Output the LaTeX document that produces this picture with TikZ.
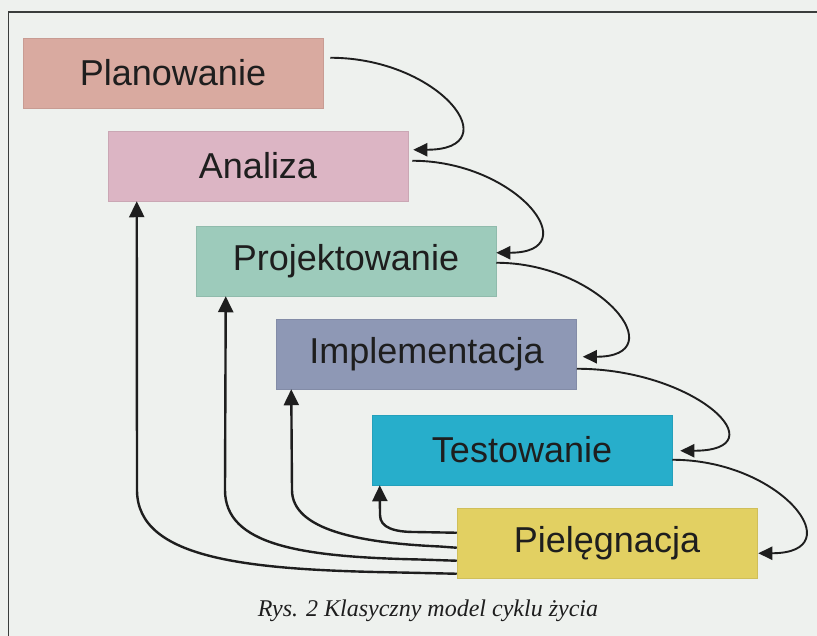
\documentclass[tikz,border=0pt]{standalone}
\usepackage{fontspec}
\setmainfont{Liberation Serif}
\setsansfont{Liberation Sans}
\usetikzlibrary{arrows.meta,calc}

\definecolor{paper}{HTML}{EEF1EE}
\definecolor{frameline}{HTML}{3A3D3C}
\definecolor{ink}{HTML}{1E1E1E}
\definecolor{cPlan}{HTML}{D9AAA0}
\definecolor{cAna}{HTML}{DCB5C4}
\definecolor{cProj}{HTML}{9DCBBB}
\definecolor{cImpl}{HTML}{8E98B5}
\definecolor{cTest}{HTML}{27AECB}
\definecolor{cPie}{HTML}{E2D062}

\tikzset{
  phase/.style={rectangle, minimum width=300pt, minimum height=70pt,
    inner sep=0pt, fill=#1, draw=#1!92!black, line width=0.5pt,
    text=ink, font=\sffamily\fontsize{36}{40}\selectfont},
  flow/.style={draw=ink, line width=1.9pt,
    -{Triangle[width=13pt,length=14pt]}},
  back/.style={draw=ink, line width=2.4pt,
    -{Triangle[width=15pt,length=16pt]}},
}

\begin{document}
\begin{tikzpicture}[x=1pt, y=-1pt]
  % page and frame
  \fill[paper] (0,0) rectangle (817,636);
  \useasboundingbox (0,0) rectangle (817,636);
  \draw[frameline, line width=1.6pt] (8.5,636) -- (8.5,12) -- (817,12);

  % life-cycle phases
  \node[phase=cPlan] (plan) at (173,73)    {Planowanie};
  \node[phase=cAna]  (ana)  at (258,166)   {Analiza};
  \node[phase=cProj] (proj) at (346,261)   {Projektowanie};
  \node[phase=cImpl] (impl) at (426.5,354) {Implementacja};
  \node[phase=cTest] (test) at (522,450)   {Testowanie};
  \node[phase=cPie]  (pie)  at (607,543.5) {Pielęgnacja};

  % forward transitions on the right
  \draw[flow] ($(plan.north east)+(7,20)$) .. controls +(110,0) and +(97,0) .. ($(ana.north east)+(5,19)$);
  \draw[flow] ($(ana.north east)+(4,30)$) .. controls +(105,0) and +(92,0) .. ($(proj.north east)+(0,27)$);
  \draw[flow] ($(proj.north east)+(0,37)$) .. controls +(105,0) and +(92,0) .. ($(impl.north east)+(6,38)$);
  \draw[flow] ($(impl.north east)+(0,50)$) .. controls +(120,0) and +(100,0) .. ($(test.north east)+(8,36)$);
  \draw[flow] ($(test.north east)+(0,45)$) .. controls +(110,0) and +(95,0) .. ($(pie.north east)+(1,45)$);

  % feedback from maintenance to earlier phases
  \draw[back] ($(pie.south west)+(0,-5)$) -- (400,572.5)
    .. controls (250,570) and (137,560) .. (137,490) -- ($(ana.south west)+(29,0)$);
  \draw[back] ($(pie.south west)+(0,-18)$) -- (420,559.5)
    .. controls (300,557) and (225,545) .. (225,490) -- ($(proj.south west)+(30,0)$);
  \draw[back] ($(pie.south west)+(0,-31)$) -- (440,546.5)
    .. controls (360,543) and (292,530) .. (292,490) -- ($(impl.south west)+(15,0)$);
  \draw[back] ($(pie.south west)+(0,-46)$) -- (415,532)
    .. controls (395,532) and (380,528) .. (380,515) -- ($(test.south west)+(8,0)$);

  % caption
  \node[font=\rmfamily\itshape\fontsize{24}{28}\selectfont, text=ink] (cap) at (428,611)
    {Rys. 2 Klasyczny model cyklu życia};
\end{tikzpicture}
\end{document}
